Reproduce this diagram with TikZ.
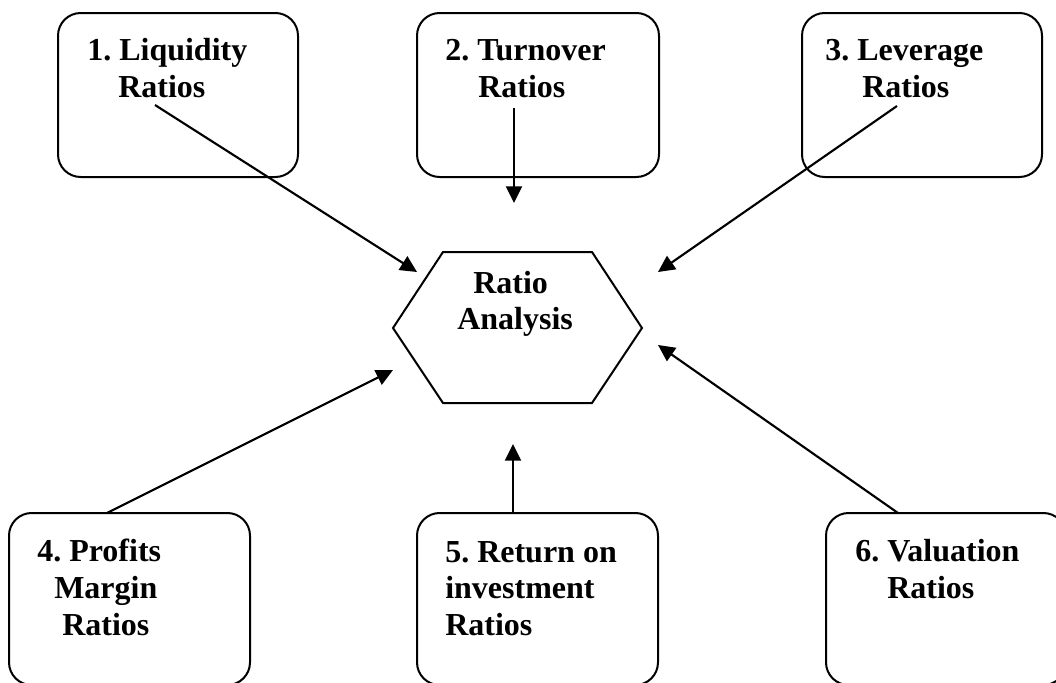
\documentclass[tikz,border=0pt]{standalone}
\usepackage{fontspec}
\setmainfont{Liberation Serif}
\usetikzlibrary{arrows.meta}
\frenchspacing
\begin{document}
\begin{tikzpicture}[x=0.75pt,y=-0.75pt,
  ratiobox/.style={draw,line width=1.5pt,rounded corners=17pt,inner sep=0pt},
  lbl/.style={anchor=base west,inner sep=0pt,font=\fontsize{24}{28}\selectfont\bfseries},
  feed/.style={line width=1.6pt,-{Triangle[length=12.5pt,width=12pt]}}]
\useasboundingbox (0,0) rectangle (1056,682);
\clip (0,0) rectangle (1056,682);

% category boxes
\node[ratiobox,minimum width=180pt,minimum height=123pt] (b1) at (178,95) {};
\node[ratiobox,minimum width=181.5pt,minimum height=123pt] (b2) at (538,95) {};
\node[ratiobox,minimum width=180pt,minimum height=123pt] (b3) at (922,95) {};
\node[ratiobox,minimum width=180.75pt,minimum height=129pt] (b4) at (129.5,599) {};
\node[ratiobox,minimum width=180.75pt,minimum height=129pt] (b5) at (537.5,599) {};
\node[ratiobox,minimum width=180pt,minimum height=129pt] (b6) at (946,599) {};

% central hexagon
\coordinate (hl) at (393,328);
\coordinate (htl) at (443,252);
\coordinate (htr) at (592,252);
\coordinate (hr) at (642,328);
\coordinate (hbr) at (592,403);
\coordinate (hbl) at (443,403);
\draw[line width=1.5pt,line join=miter] (hl) -- (htl) -- (htr) -- (hr) -- (hbr) -- (hbl) -- cycle;

% labels
\node[lbl] (t1a) at (87,60) {1. Liquidity};
\node[lbl] (t1b) at (118,97) {Ratios};
\node[lbl] (t2a) at (445,60) {2. Turnover};
\node[lbl] (t2b) at (478,97) {Ratios};
\node[lbl] (t3a) at (825,60) {3. Leverage};
\node[lbl] (t3b) at (862,97) {Ratios};
\node[lbl] (hta) at (473,293) {Ratio};
\node[lbl] (htb) at (457,329) {Analysis};
\node[lbl] (t4a) at (37,561) {4. Profits};
\node[lbl] (t4b) at (54,598) {Margin};
\node[lbl] (t4c) at (62,635) {Ratios};
\node[lbl] (t5a) at (445,562) {5. Return on};
\node[lbl] (t5b) at (445,598) {investment};
\node[lbl] (t5c) at (445,635) {Ratios};
\node[lbl] (t6a) at (855,561) {6. Valuation};
\node[lbl] (t6b) at (887,598) {Ratios};

% arrow end points
\coordinate (s1) at (155,105);  \coordinate (e1) at (417,272);
\coordinate (s2) at (514,108);  \coordinate (e2) at (514,203);
\coordinate (s3) at (897,106);  \coordinate (e3) at (658,272);
\coordinate (s4) at (107,513);  \coordinate (e4) at (393,370);
\coordinate (s5) at (513,513);  \coordinate (e5) at (513,444);
\coordinate (s6) at (898,513);  \coordinate (e6) at (658,345);

\draw[feed] (s1) -- (e1);
\draw[feed] (s2) -- (e2);
\draw[feed] (s3) -- (e3);
\draw[feed] (s4) -- (e4);
\draw[feed] (s5) -- (e5);
\draw[feed] (s6) -- (e6);
\end{tikzpicture}
\end{document}
